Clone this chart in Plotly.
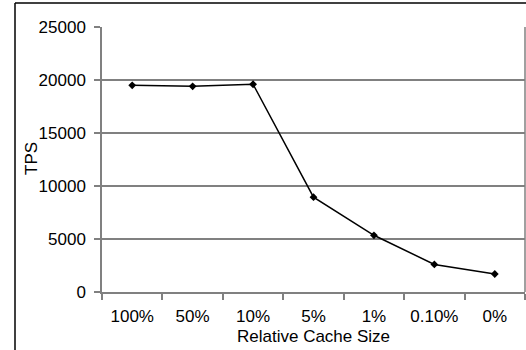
import plotly.graph_objects as go

categories = ["100%", "50%", "10%", "5%", "1%", "0.10%", "0%"]
tps_values = [19500, 19400, 19600, 8950, 5350, 2600, 1700]
y_ticks = [0, 5000, 10000, 15000, 20000, 25000]
y_tick_labels = ["0", "5000", "10000", "15000", "20000", "25000"]

W, H = 526, 350
L, R, T, B = 102, 525, 27, 292
pw, ph = R - L, B - T

def px(x):
    return (x - L) / pw

def py(y):
    return (B - y) / ph

font = dict(family="Liberation Sans, Arial, sans-serif", size=17, color="#000000")

fig = go.Figure()
fig.add_trace(go.Scatter(
    x=categories, y=tps_values, mode="lines+markers",
    line=dict(color="#000000", width=1.5),
    marker=dict(symbol="diamond", size=6, color="#000000"),
    cliponaxis=False, showlegend=False, hoverinfo="skip",
))

fig.update_layout(
    width=W, height=H,
    margin=dict(l=L, r=W - R, t=T, b=H - B, pad=0),
    paper_bgcolor="white", plot_bgcolor="white",
    font=font,
    xaxis=dict(
        type="category", tickmode="array", tickvals=categories,
        ticks="outside", ticklen=6, tickcolor="#808080", tickwidth=1.5,
        tickson="boundaries", showgrid=False,
        showline=True, linecolor="#808080", linewidth=1.5,
        range=[-0.5, len(categories) - 0.5],
        ticklabelstandoff=8,
        tickfont=font,
    ),
    yaxis=dict(
        range=[0, 25000], tickmode="array", tickvals=y_ticks, ticktext=y_tick_labels,
        ticks="outside", ticklen=6, tickcolor="#808080", tickwidth=1.5,
        showgrid=True, gridcolor="#808080", gridwidth=1.5,
        showline=True, linecolor="#808080", linewidth=1.5,
        zeroline=False,
        ticklabelstandoff=5,
        tickfont=font,
    ),
)

fig.add_annotation(text="TPS", xref="paper", yref="paper", x=px(31), y=py(159),
                   showarrow=False, textangle=-90, font=font,
                   xanchor="center", yanchor="middle")
fig.add_annotation(text="Relative Cache Size", xref="paper", yref="paper",
                   x=px(313), y=py(336), showarrow=False, font=font,
                   xanchor="center", yanchor="middle")

# right border of the plot area
fig.add_shape(type="line", xref="paper", yref="paper", x0=1, x1=1, y0=0, y1=1,
              line=dict(color="#808080", width=1.5))
# outer chart frame (left + top edges)
fig.add_shape(type="line", xref="paper", yref="paper",
              x0=px(15), x1=px(15), y0=py(3), y1=py(352),
              line=dict(color="#000000", width=1.5))
fig.add_shape(type="line", xref="paper", yref="paper",
              x0=px(15), x1=px(528), y0=py(3), y1=py(3),
              line=dict(color="#000000", width=1.5))

fig.write_html("out.html", config={"displayModeBar": False},
               post_script="document.body.style.margin='0';")
